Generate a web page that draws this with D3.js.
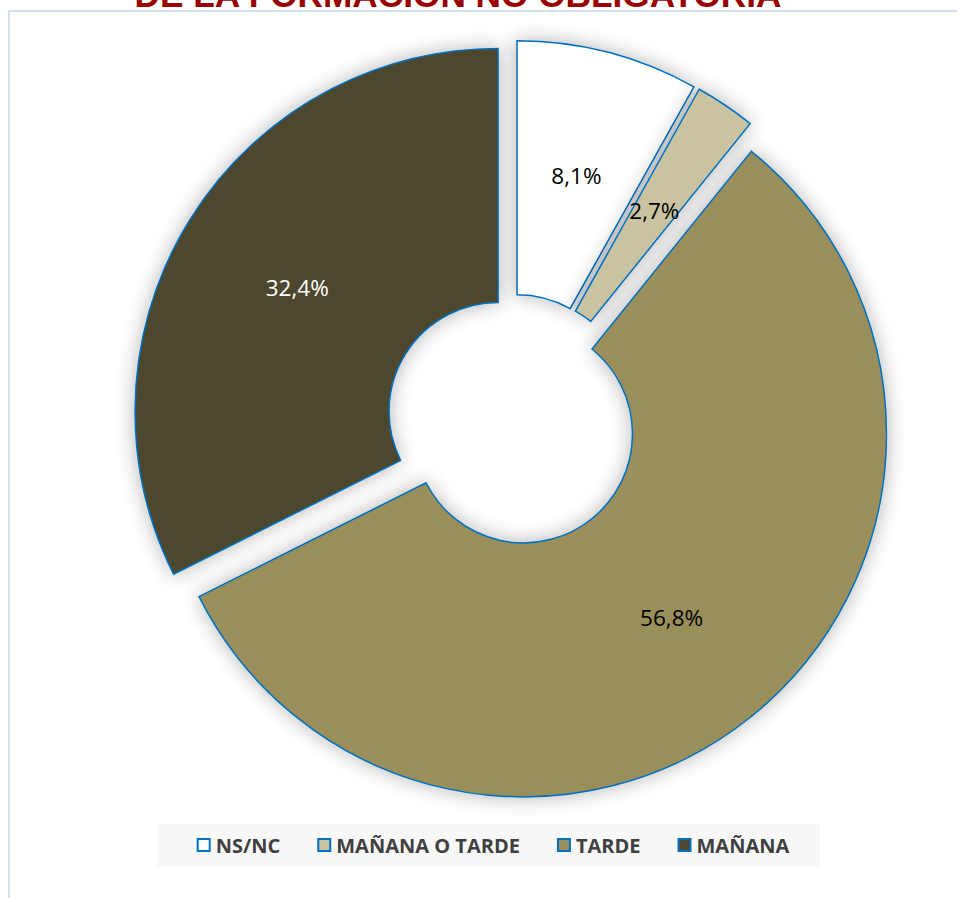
<!DOCTYPE html>
<html>
<head>
<meta charset="utf-8">
<script src="https://cdn.jsdelivr.net/npm/d3@7"></script>
<style>
  html, body { margin: 0; padding: 0; background: #ffffff; overflow: hidden; }
  svg { display: block; }
</style>
</head>
<body>
<svg id="chart" width="957" height="898"></svg>
<script>
// ---- data ----
const categories = ["NS/NC", "MAÑANA O TARDE", "TARDE", "MAÑANA"];
const values = [8.1, 2.7, 56.8, 32.4];
const valueLabels = ["8,1%", "2,7%", "56,8%", "32,4%"];
const colors = ["#FFFFFF", "#C9C3A1", "#9A8E5A", "#4D472D"];
const labelColors = ["#000000", "#000000", "#000000", "#FFFFFF"];
const titleText = "DE LA FORMACIÓN NO OBLIGATORIA";

// ---- layout ----
const W = 957, H = 898;
const cx = 512.7, cy = 420.5;
const outerR = 363, innerR = 109;
const explode = 17.2;
const stroke = "#0070C0";

const svg = d3.select("#chart");
const defs = svg.append("defs");
const glow = defs.append("filter").attr("id", "glow")
  .attr("x", "-20%").attr("y", "-20%").attr("width", "140%").attr("height", "140%");
glow.append("feGaussianBlur").attr("in", "SourceAlpha").attr("stdDeviation", 10).attr("result", "b");
glow.append("feComponentTransfer").attr("in", "b").attr("result", "c")
  .append("feFuncA").attr("type", "linear").attr("slope", 0.3);
glow.append("feFlood").attr("flood-color", "#000000").attr("result", "f");
glow.append("feComposite").attr("in", "f").attr("in2", "c").attr("operator", "in").attr("result", "s");
const m = glow.append("feMerge");
m.append("feMergeNode").attr("in", "s");
m.append("feMergeNode").attr("in", "SourceGraphic");

// frame of plot area
svg.append("path")
  .attr("d", `M9,${H} L9,11 L${W},11`)
  .attr("fill", "none").attr("stroke", "#D3E0F1").attr("stroke-width", 2);

// title (clipped at top, as in the reference)
const title = svg.append("text")
  .attr("x", 458).attr("y", 7)
  .attr("text-anchor", "middle")
  .attr("font-family", "'Liberation Sans', Arial, sans-serif")
  .attr("font-weight", "bold")
  .attr("font-size", 29)
  .attr("fill", "#990000")
  .text(titleText);
const tl = title.node().getComputedTextLength();
title.attr("font-size", 29 * 647 / tl);

// ---- donut ----
const pie = d3.pie().sort(null).value(d => d)(values);
const arc = d3.arc().innerRadius(innerR).outerRadius(outerR);

const g = svg.append("g").attr("transform", `translate(${cx},${cy})`);
const slices = g.selectAll("g.slice").data(pie).enter().append("g")
  .attr("class", "slice")
  .attr("transform", d => {
    const a = (d.startAngle + d.endAngle) / 2;
    return `translate(${explode * Math.sin(a)},${-explode * Math.cos(a)})`;
  });

slices.append("path")
  .attr("d", arc)
  .attr("fill", (d, i) => colors[i])
  .attr("stroke", stroke)
  .attr("stroke-width", 1.5)
  .attr("stroke-linejoin", "miter")
  .attr("filter", "url(#glow)");

slices.append("text")
  .attr("transform", d => `translate(${arc.centroid(d)})`)
  .attr("text-anchor", "middle")
  .attr("dy", "0.36em")
  .attr("font-family", "'Open Sans', sans-serif")
  .attr("font-size", 22.5)
  .attr("fill", (d, i) => labelColors[i])
  .text((d, i) => valueLabels[i]);

// ---- legend ----
const legBox = { x: 157, y: 824, w: 663, h: 43 };
svg.append("rect")
  .attr("x", legBox.x).attr("y", legBox.y)
  .attr("width", legBox.w).attr("height", legBox.h)
  .attr("fill", "#F8F8F8");

const leg = svg.append("g");
const items = leg.selectAll("g").data(categories).enter().append("g");
const texts = items.append("text")
  .attr("font-family", "'Open Sans', sans-serif")
  .attr("font-weight", "bold")
  .attr("font-size", 20)
  .attr("fill", "#404040")
  .attr("y", 853)
  .text(d => d);
const marker = 14, gapM = 5, gapItem = 37;
let widths = [];
texts.each(function () { widths.push(this.getComputedTextLength()); });
let total = 0;
widths.forEach((w, i) => { total += marker + gapM + w + (i < widths.length - 1 ? gapItem : 0); });
let x = 493 - total / 2;
items.each(function (d, i) {
  const it = d3.select(this);
  it.insert("rect", "text")
    .attr("x", x + 1).attr("y", 839)
    .attr("width", marker - 2).attr("height", marker - 2)
    .attr("fill", colors[i])
    .attr("stroke", stroke).attr("stroke-width", 2);
  it.select("text").attr("x", x + marker + gapM);
  x += marker + gapM + widths[i] + gapItem;
});
</script>
</body>
</html>
